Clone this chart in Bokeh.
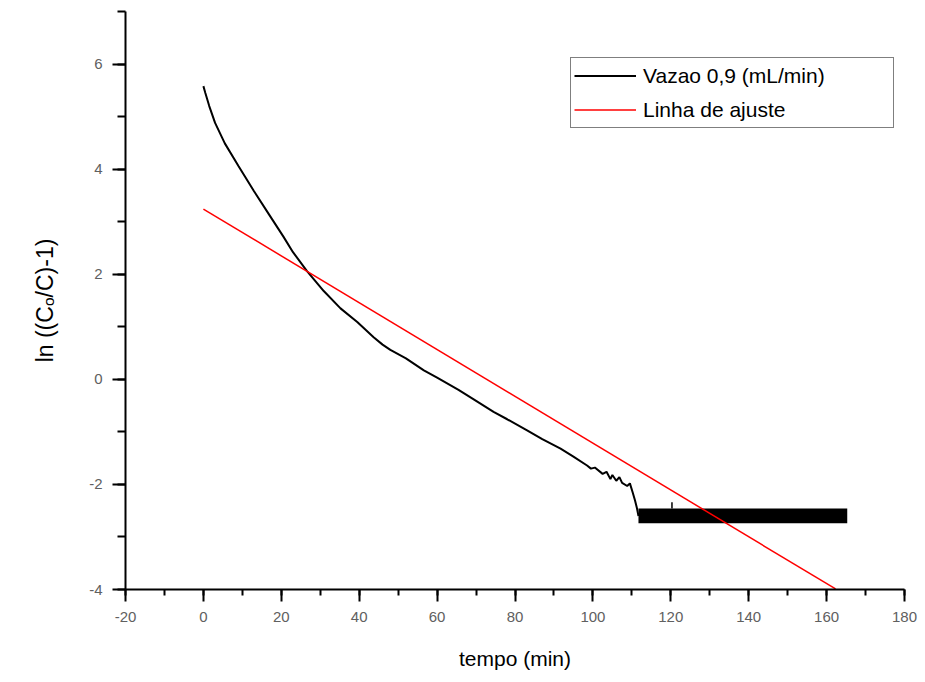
from bokeh.plotting import figure
from bokeh.models import SingleIntervalTicker, Legend, LegendItem, CustomJSTickFormatter
from bokeh.embed import file_html
from bokeh.resources import INLINE

# Measured curve: ln((Co/C)-1) versus time, flow rate 0.9 mL/min
tempo = [0.0, 0.5, 1.5, 3.0, 5.5, 9.0, 13.0, 17.0, 20.5, 23.0, 26.6, 30.9,
         35.2, 39.5, 43.7, 46.0, 48.0, 52.0, 56.6, 60.0, 65.5, 69.4, 74.5,
         78.0, 83.1, 87.0, 91.7, 95.0, 98.5, 99.5, 100.5, 102.5, 103.5,
         104.5, 105.0, 106.0, 106.8, 107.5, 108.8, 109.5, 110.2, 110.8,
         111.3, 111.7]
ln_ratio = [5.58, 5.45, 5.20, 4.88, 4.49, 4.06, 3.58, 3.12, 2.72, 2.42, 2.06,
            1.68, 1.35, 1.09, 0.80, 0.66, 0.56, 0.40, 0.17, 0.03, -0.20,
            -0.38, -0.62, -0.76, -0.97, -1.14, -1.32, -1.47, -1.64, -1.70,
            -1.68, -1.80, -1.76, -1.90, -1.82, -1.93, -1.86, -1.97, -2.03,
            -1.98, -2.15, -2.30, -2.45, -2.60]

# Detection-limit plateau: the signal flickers between two levels
plateau_tempo = [111.7, 165.3]
plateau_low = [-2.74, -2.74]
plateau_high = [-2.46, -2.46]
spike_tempo = [120.3, 120.3]
spike_y = [-2.46, -2.34]

# Linear fit
fit_tempo = [0.0, 162.3]
fit_y = [3.24, -3.99]

p = figure(width=925, height=682, x_range=(-20, 180), y_range=(-4, 7),
           output_backend="svg", toolbar_location=None,
           min_border_left=125, min_border_right=21,
           min_border_top=11, min_border_bottom=93)
p.outline_line_color = None
p.xgrid.visible = False
p.ygrid.visible = False
p.background_fill_color = "white"
p.border_fill_color = "white"

p.xaxis.ticker = SingleIntervalTicker(interval=20, num_minor_ticks=2)
p.yaxis.ticker = SingleIntervalTicker(interval=2, num_minor_ticks=2)

for ax in (p.xaxis[0], p.yaxis[0]):
    ax.formatter = CustomJSTickFormatter(code="return tick.toString();")
    ax.axis_line_width = 2
    ax.axis_line_color = "black"
    ax.major_tick_line_width = 2
    ax.minor_tick_line_width = 2
    ax.major_tick_line_color = "black"
    ax.minor_tick_line_color = "black"
    ax.major_tick_in = 0
    ax.minor_tick_in = 0
    ax.major_label_text_font = "Liberation Sans"
    ax.major_label_text_font_size = "15px"
    ax.major_label_text_color = "#606060"
    ax.major_label_standoff = 10
    ax.axis_label_text_font = "Liberation Sans"
    ax.axis_label_text_font_style = "normal"
    ax.axis_label_text_color = "black"

p.xaxis.major_tick_out = 12
p.xaxis.minor_tick_out = 6
p.yaxis.major_tick_out = 13
p.yaxis.minor_tick_out = 8

p.xaxis.axis_label = "tempo (min)"
p.xaxis.axis_label_text_font_size = "21px"
p.xaxis.axis_label_standoff = 22
p.yaxis.axis_label = "ln ((C\u2092/C)-1)"
p.yaxis.axis_label_text_font_size = "23px"
p.yaxis.axis_label_standoff = 28

curve = p.line(tempo, ln_ratio, line_color="black", line_width=2)
p.varea(x=plateau_tempo, y1=plateau_low, y2=plateau_high, fill_color="black")
p.line(spike_tempo, spike_y, line_color="black", line_width=1.5)
fit = p.line(fit_tempo, fit_y, line_color="#ff0000", line_width=1.5)

legend = Legend(items=[LegendItem(label="Vazao 0,9 (mL/min)", renderers=[curve]),
                       LegendItem(label="Linha de ajuste", renderers=[fit])],
                location=(445, 461))
legend.border_line_color = "black"
legend.border_line_width = 1.5
legend.background_fill_alpha = 1
legend.padding = 3
legend.margin = 0
legend.spacing = 5
legend.glyph_width = 62
legend.glyph_height = 29
legend.label_height = 29
legend.label_standoff = 7
legend.label_width = 247
legend.label_text_font = "Liberation Sans"
legend.label_text_font_size = "21px"
legend.label_text_color = "black"
p.add_layout(legend, "center")

open("out.html", "w").write(file_html(p, INLINE))
